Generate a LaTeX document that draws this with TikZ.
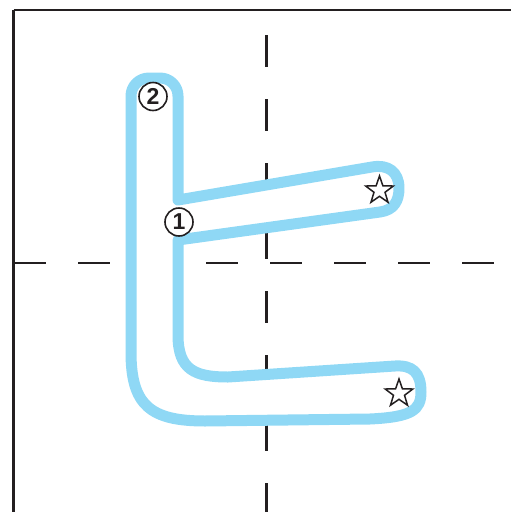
\documentclass[tikz,border=0pt]{standalone}
\usepackage{fontspec}
\setmainfont{Liberation Sans}
\usetikzlibrary{shapes.geometric}
\definecolor{guide}{HTML}{231F20}
\definecolor{strokeblue}{HTML}{8FD8F5}
\tikzset{
  guideline/.style={draw=guide, line width=2.3pt, dash pattern=on 32pt off 32pt},
  frameline/.style={draw=guide, line width=2.6pt},
  letter/.style={draw=strokeblue, fill=white, line width=11pt, line join=round},
  starmark/.style={star, star points=5, star point ratio=2.5, draw=guide, line width=1.5pt, minimum size=29pt, inner sep=0pt},
  ordermark/.style={circle, draw=guide, fill=white, line width=1.6pt, minimum size=28pt, inner sep=0pt, font=\fontsize{23pt}{23pt}\selectfont\bfseries, text=guide}
}
\begin{document}
\begin{tikzpicture}[x=1pt, y=-1pt]
\useasboundingbox (0,0) rectangle (511,512);
\clip (0,0) rectangle (511,512);
% frame
\draw[frameline] (13.5,10) -- (530,10);
\draw[frameline] (13.5,10) -- (13.5,530);
% guide lines
\draw[guideline] (14,263) -- (494,263);
\draw[guideline] (266.5,35) -- (266.5,530);
% letter outline
\path[letter] (178,200) -- (178,96)
  .. controls (178,86) and (170,78) .. (160,78) -- (149,78)
  .. controls (139,78) and (131,86) .. (131,96)
  -- (131,352)
  .. controls (131,405) and (150,421) .. (205,421)
  -- (370,419)
  .. controls (412,417) and (421,410) .. (421,392)
  .. controls (421,372) and (412,365) .. (395,366)
  -- (228,377)
  .. controls (195,377) and (178,370) .. (178,335)
  -- (178,240) -- (380,212)
  .. controls (394,210) and (399,201) .. (399,188)
  .. controls (399,172) and (388,164) .. (372,167)
  -- cycle;
% stars
\node[starmark] (star1) at (379.5,190.5) {};
\node[starmark] (star2) at (399,393.5) {};
% stroke order marks
\node[ordermark] (one) at (179,222) {1};
\node[ordermark] (two) at (153,96.5) {2};
\end{tikzpicture}
\end{document}
